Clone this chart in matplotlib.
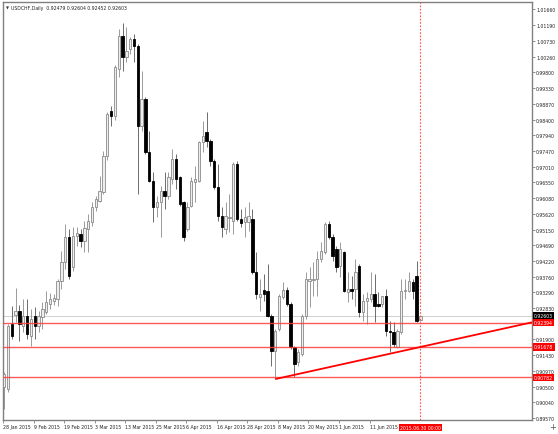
import numpy as np
import matplotlib
matplotlib.use("Agg")
import matplotlib.pyplot as plt
import matplotlib.transforms as mtransforms
from matplotlib import font_manager

# USDCHF daily candles, bar 1 = 28 Jan 2015
opens = [0.9049, 0.9045, 0.9236, 0.9262, 0.9275, 0.9230, 0.9260, 0.9201, 0.9260, 0.9230,
         0.9255, 0.9271, 0.9295, 0.9304, 0.9310, 0.9364, 0.9418, 0.9492, 0.9403, 0.9495,
         0.9502, 0.9482, 0.9516, 0.9536, 0.9581, 0.9600, 0.9625, 0.9733, 0.9866, 0.9851,
         0.9990, 1.0088, 1.0024, 1.0049, 1.0078, 1.0058, 0.9822, 0.9901, 0.9743, 0.9659,
         0.9581, 0.9595, 0.9630, 0.9615, 0.9664, 0.9723, 0.9669, 0.9595, 0.9516, 0.9585,
         0.9655, 0.9659, 0.9773, 0.9802, 0.9778, 0.9719, 0.9640, 0.9556, 0.9516, 0.9548,
         0.9541, 0.9709, 0.9546, 0.9538, 0.9538, 0.9546, 0.9389, 0.9315, 0.9336, 0.9334,
         0.9260, 0.9157, 0.9221, 0.9315, 0.9336, 0.9295, 0.9167, 0.9122, 0.9147, 0.9260,
         0.9364, 0.9365, 0.9369, 0.9428, 0.9448, 0.9531, 0.9492, 0.9457, 0.9408, 0.9448,
         0.9329, 0.9339, 0.9339, 0.9408, 0.9270, 0.9305, 0.9310, 0.9324, 0.9295, 0.9295,
         0.9319, 0.9216, 0.9211, 0.9167, 0.9211, 0.9334, 0.9334, 0.9359, 0.9379, 0.92479]
highs = [0.9093, 0.9236, 0.9290, 0.9341, 0.9292, 0.9310, 0.9310, 0.9280, 0.9286, 0.9275,
         0.9301, 0.9334, 0.9327, 0.9324, 0.9369, 0.9452, 0.9531, 0.9517, 0.9522, 0.9522,
         0.9517, 0.9541, 0.9561, 0.9595, 0.9615, 0.9674, 0.9748, 0.9862, 0.9881, 1.0000,
         1.0108, 1.0126, 1.0113, 1.0083, 1.0093, 1.0063, 0.9985, 0.9906, 0.9807, 0.9684,
         0.9615, 0.9645, 0.9684, 0.9684, 0.9753, 0.9738, 0.9674, 0.9600, 0.9595, 0.9669,
         0.9704, 0.9778, 0.9837, 0.9862, 0.9783, 0.9723, 0.9709, 0.9581, 0.9595, 0.9620,
         0.9714, 0.9719, 0.9576, 0.9581, 0.9595, 0.9576, 0.9448, 0.9369, 0.9384, 0.9413,
         0.9265, 0.9221, 0.9324, 0.9359, 0.9344, 0.9300, 0.9172, 0.9162, 0.9265, 0.9389,
         0.9403, 0.9418, 0.9452, 0.9477, 0.9536, 0.9541, 0.9502, 0.9467, 0.9477, 0.9452,
         0.9389, 0.9379, 0.9428, 0.9413, 0.9324, 0.9329, 0.9389, 0.9384, 0.9329, 0.9320,
         0.9339, 0.9245, 0.9241, 0.9221, 0.9369, 0.9369, 0.9389, 0.9369, 0.9423, 0.92604]
lows = [0.8985, 0.9035, 0.9191, 0.9242, 0.9186, 0.9212, 0.9191, 0.9172, 0.9191, 0.9212,
        0.9221, 0.9265, 0.9280, 0.9292, 0.9290, 0.9339, 0.9398, 0.9369, 0.9393, 0.9467,
        0.9462, 0.9448, 0.9448, 0.9526, 0.9571, 0.9595, 0.9620, 0.9720, 0.9822, 0.9840,
        0.9965, 0.9985, 1.0009, 1.0034, 1.0009, 0.9620, 0.9807, 0.9738, 0.9655, 0.9536,
        0.9551, 0.9492, 0.9576, 0.9605, 0.9650, 0.9635, 0.9585, 0.9482, 0.9511, 0.9581,
        0.9595, 0.9655, 0.9743, 0.9758, 0.9704, 0.9635, 0.9541, 0.9492, 0.9502, 0.9507,
        0.9502, 0.9541, 0.9522, 0.9492, 0.9511, 0.9384, 0.9310, 0.9275, 0.9305, 0.9255,
        0.9112, 0.9073, 0.9216, 0.9310, 0.9290, 0.9162, 0.9078, 0.9112, 0.9142, 0.9250,
        0.9285, 0.9319, 0.9319, 0.9418, 0.9443, 0.9487, 0.9423, 0.9389, 0.9374, 0.9329,
        0.9300, 0.9310, 0.9290, 0.9255, 0.9245, 0.9236, 0.9300, 0.9241, 0.9285, 0.9285,
        0.9201, 0.9152, 0.9167, 0.9165, 0.9206, 0.9310, 0.9329, 0.9310, 0.9241, 0.92452]
closes = [0.9087, 0.9230, 0.9201, 0.9275, 0.9236, 0.9260, 0.9206, 0.9250, 0.9230, 0.9260,
          0.9280, 0.9301, 0.9310, 0.9312, 0.9364, 0.9418, 0.9492, 0.9379, 0.9497, 0.9505,
          0.9482, 0.9521, 0.9541, 0.9581, 0.9605, 0.9630, 0.9733, 0.9857, 0.9851, 0.9995,
          1.0088, 1.0024, 1.0044, 1.0078, 1.0058, 0.9822, 0.9901, 0.9743, 0.9659, 0.9581,
          0.9595, 0.9630, 0.9615, 0.9669, 0.9723, 0.9664, 0.9590, 0.9492, 0.9581, 0.9659,
          0.9664, 0.9773, 0.9791, 0.9778, 0.9719, 0.9640, 0.9556, 0.9522, 0.9556, 0.9551,
          0.9709, 0.9546, 0.9534, 0.9551, 0.9556, 0.9389, 0.9324, 0.9324, 0.9324, 0.9260,
          0.9157, 0.9216, 0.9319, 0.9336, 0.9295, 0.9167, 0.9118, 0.9152, 0.9260, 0.9369,
          0.9368, 0.9369, 0.9428, 0.9452, 0.9531, 0.9492, 0.9438, 0.9403, 0.9457, 0.9334,
          0.9339, 0.9334, 0.9389, 0.9270, 0.9305, 0.9312, 0.9324, 0.9290, 0.9290, 0.9319,
          0.9216, 0.9211, 0.9177, 0.9216, 0.9334, 0.9337, 0.9364, 0.9334, 0.9245, 0.92603]

date_ticks = [1, 9, 17, 25, 33, 41, 49, 57, 65, 73, 81, 89, 97]
date_labels = ["28 Jan 2015", "9 Feb 2015", "19 Feb 2015", "3 Mar 2015", "13 Mar 2015",
               "25 Mar 2015", "6 Apr 2015", "16 Apr 2015", "28 Apr 2015", "8 May 2015",
               "20 May 2015", "1 Jun 2015", "11 Jun 2015"]
price_ticks = [1.01660, 1.01190, 1.00730, 1.00260, 0.99800, 0.99330, 0.98870, 0.98400,
               0.97940, 0.97470, 0.97010, 0.96550, 0.96080, 0.95620, 0.95150, 0.94690,
               0.94220, 0.93760, 0.93290, 0.92830, 0.91900, 0.91430, 0.90970, 0.90500,
               0.90040, 0.89570]
levels = [0.92394, 0.91678, 0.90782]
bid = 0.92603
trend_a = (72, 0.90730)
trend_b = (110, 0.91678)
cursor_bar = 110
cursor_label = "2015.06.30 00:00"
title = "USDCHF,Daily  0.92479 0.92604 0.92452 0.92603"

# narrow font if there is one, like the terminal's small Tahoma
names = {f.name for f in font_manager.fontManager.ttflist}
if "Liberation Sans Narrow" in names:
    FONT = ["Liberation Sans Narrow", "DejaVu Sans"]
    FS = 4.4
else:
    FONT = ["DejaVu Sans"]
    FS = 3.3
plt.rcParams["font.family"] = FONT

W, H = 558, 435
fig = plt.figure(figsize=(W / 100, H / 100), dpi=100)
fig.patch.set_facecolor("white")
ax = fig.add_axes([3 / W, 14 / H, 529 / W, 418 / H])

x = np.arange(1, len(opens) + 1)
o = np.array(opens)
c = np.array(closes)
hi = np.array(highs)
lo = np.array(lows)
up = c >= o

# wicks then bodies
ax.vlines(x[up], lo[up], hi[up], color="#8a8a8a", lw=0.6, zorder=3)
ax.vlines(x[~up], lo[~up], hi[~up], color="#555555", lw=0.6, zorder=3)
ax.bar(x[up], (c - o)[up], bottom=o[up], width=0.62, color="#eeeeee",
       edgecolor="#8a8a8a", linewidth=0.6, zorder=4)
ax.bar(x[~up], (o - c)[~up], bottom=c[~up], width=0.62, color="black",
       edgecolor="black", linewidth=0.6, zorder=4)

xmin, xmax = 0.76, 139.24
ax.set_xlim(xmin, xmax)
ax.set_ylim(0.89520, 1.01876)

# bid line, support levels, trend ray, cursor
ax.axhline(bid, color="#c8c8c8", lw=0.6, zorder=2)
for lv in levels:
    ax.axhline(lv, color="#ff3c3c", lw=1.0, alpha=0.85, zorder=5)
slope = (trend_b[1] - trend_a[1]) / (trend_b[0] - trend_a[0])
ax.plot([trend_a[0], xmax], [trend_a[1], trend_a[1] + slope * (xmax - trend_a[0])],
        color="red", lw=1.3, zorder=6, solid_capstyle="butt")
ax.axvline(cursor_bar, color="#ff5050", lw=0.8, ls=(0, (1.5, 1.5)), zorder=5)

for s in ax.spines.values():
    s.set_color("#808080")
    s.set_linewidth(1.0)
ax.yaxis.tick_right()
ax.set_yticks(price_ticks)
ax.set_yticklabels([f"{p:.5f}" for p in price_ticks], fontsize=FS)
ax.tick_params(axis="y", length=2, width=0.5, pad=1, colors="#666666", labelcolor="#222222")
ax.set_xticks(np.array(date_ticks) - 0.3)
ax.set_xticklabels(date_labels, fontsize=FS)
for lbl in ax.get_xticklabels():
    lbl.set_ha("left")
ax.tick_params(axis="x", length=2, width=0.5, pad=1, colors="#666666", labelcolor="#222222")

# price labels on the right axis
tr = mtransforms.blended_transform_factory(ax.transAxes, ax.transData)
ax.text(1.004, bid, f"{bid:.5f}", transform=tr, fontsize=FS, color="white", va="center",
        ha="left", zorder=10, clip_on=False,
        bbox=dict(boxstyle="square,pad=0.25", fc="black", ec="black", lw=0))
for lv in levels:
    ax.text(1.004, lv, f"{lv:.5f}", transform=tr, fontsize=FS, color="white", va="center",
            ha="left", zorder=10, clip_on=False,
            bbox=dict(boxstyle="square,pad=0.25", fc="red", ec="red", lw=0))

# cursor date label
trx = mtransforms.blended_transform_factory(ax.transData, ax.transAxes)
ax.text(cursor_bar, -0.012, cursor_label, transform=trx, fontsize=FS, color="white",
        ha="center", va="top", zorder=10, clip_on=False,
        bbox=dict(boxstyle="square,pad=0.3", fc="red", ec="red", lw=0))

# symbol header
ax.text(0.006, 0.992, "\u25bc", transform=ax.transAxes, fontsize=2.8, color="#333333",
        ha="left", va="top", family="DejaVu Sans")
ax.text(0.016, 0.993, title, transform=ax.transAxes, fontsize=FS, color="#222222",
        ha="left", va="top")
fig.text(553 / W, 1 - 428 / H, "+", fontsize=6, color="#555555", ha="center", va="center",
         family="DejaVu Sans")

fig.savefig("out.png", dpi=100, facecolor="white")
plt.close(fig)
